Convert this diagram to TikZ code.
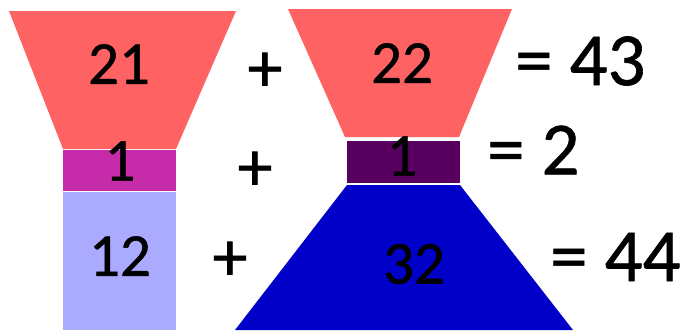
\documentclass[tikz,border=0pt]{standalone}
\usepackage{fontspec}
\setmainfont{Carlito}[FakeBold=0.8]
\definecolor{sred}{RGB}{255,98,98}
\definecolor{smag}{RGB}{198,44,170}
\definecolor{slblue}{RGB}{170,170,255}
\definecolor{spurp}{RGB}{88,0,96}
\definecolor{sblue}{RGB}{0,0,200}
\begin{document}
\begin{tikzpicture}[x=1pt,y=-1pt,
  num/.style={inner sep=0pt,font=\fontsize{61}{61}\selectfont},
  res/.style={inner sep=0pt,font=\fontsize{75}{75}\selectfont,anchor=west},
  op/.style={inner sep=0pt,font=\fontsize{70}{70}\selectfont}]
\useasboundingbox (0,0) rectangle (681,330);
% left column
\fill[sred] (9,11) -- (236,11) -- (176,149) -- (63,149) -- cycle;
\fill[smag] (63,150) rectangle (176,191);
\fill[slblue] (63,192) rectangle (176,330);
% right column
\fill[sred] (288,9) -- (512,9) -- (459,137) -- (345,137) -- cycle;
\fill[spurp] (347,141) rectangle (460,183);
\fill[sblue] (347,185) -- (460,185) -- (573,330) -- (235,330) -- cycle;
% numbers
\node[num] (a1) at (119,64) {21};
\node[num] (a2) at (120,161) {1};
\node[num] (a3) at (120,256) {12};
\node[num] (b1) at (402,63) {22};
\node[num] (b2) at (402,156) {1};
\node[num] (b3) at (414,264) {32};
% plus signs
\node[op] (p1) at (265,72) {+};
\node[op] (p2) at (255,171) {+};
\node[op] (p3) at (230,261) {+};
% results
\node[res] (r1) at (515,61) {= 43};
\node[res] (r2) at (487,150) {= 2};
\node[res] (r3) at (550,257) {= 44};
\end{tikzpicture}
\end{document}
